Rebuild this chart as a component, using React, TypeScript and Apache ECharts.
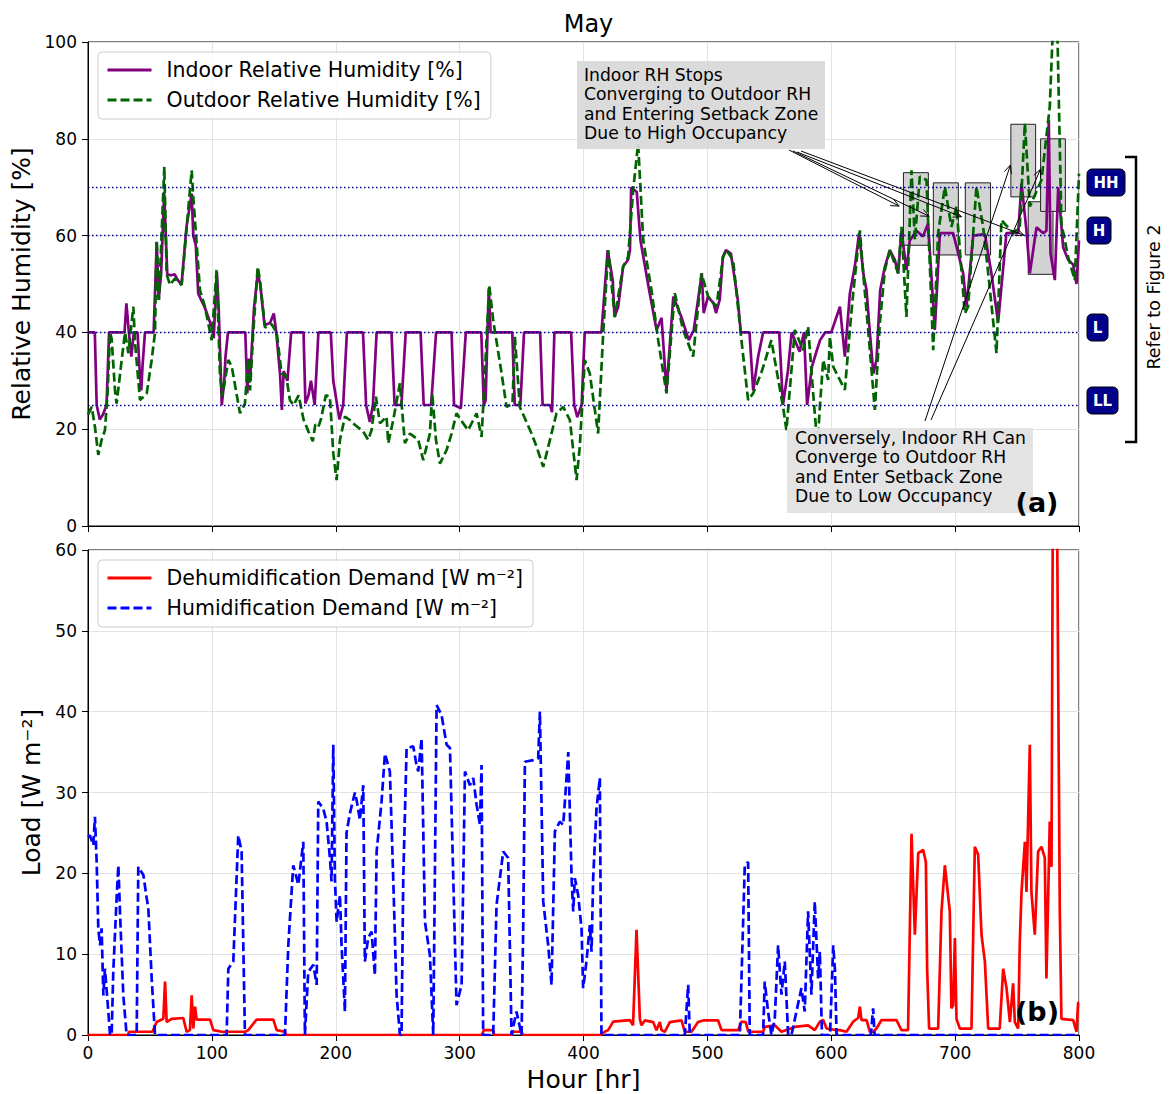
import React, { useEffect, useRef } from "react";
import * as echarts from "echarts";

// ---------- data (hour, value) ----------
const xTickStep = 100;

const indoorRH: [number, number][] = [
  [0, 40], [5.5, 40], [7, 25], [9.5, 22], [12, 23], [15, 25], [17, 40], [29.5, 40], [31, 46], [33, 40], [35, 35], [37, 40],
  [40, 40], [41.5, 33], [43, 28], [44, 33], [46, 40], [53, 40], [55.5, 58.7], [57, 46.7], [59, 52], [61.5, 69], [62.5, 62],
  [64, 52], [67, 51.8], [70, 52], [72, 51], [75.5, 49.8], [79.5, 61.8], [83.7, 68.7], [85, 60], [87, 58], [89, 48],
  [94.5, 45], [100, 41], [101.5, 38.8], [104, 52.5], [105.5, 45], [108, 25], [110, 30], [111, 35], [113, 40], [127, 40],
  [128.6, 27.4], [130, 34.6], [131, 31], [134, 45], [137, 52.2], [139, 50], [142.5, 41.5], [147, 42], [150, 43.9],
  [152, 40], [155, 31.5], [156.5, 24], [158, 32], [161, 30], [164, 40], [174, 40], [175.5, 25.3], [178, 27], [180, 30],
  [183, 25], [186, 40], [196, 40], [198, 30], [203, 22], [206, 25], [209, 40], [222, 40], [224.5, 25], [227.5, 21.5],
  [230, 25], [233, 40], [245, 40], [247.5, 25], [253, 25], [256.5, 40], [268.5, 40], [271, 25], [277, 25], [281, 40],
  [293.5, 40], [295.5, 25], [301, 24.3], [305, 40], [317.5, 40], [319.5, 25], [321, 26], [322.5, 40], [323.6, 49],
  [325, 40], [342.5, 40], [344.5, 25], [349, 25], [352, 40], [365, 40], [367, 25], [373, 25], [374.6, 23.5], [376.5, 40],
  [390, 40], [392.5, 25], [395, 22.5], [398.5, 25], [401, 40], [414.5, 40], [419.5, 57], [423.6, 50.8], [425, 43.2],
  [428, 45.3], [432, 53.6], [436, 55], [437.5, 57], [438.5, 70], [443, 69], [446, 59], [453, 48.7], [459, 40.5],
  [463, 43], [467, 28], [472.5, 47.4], [479, 43.2], [485, 38.4], [489, 40.5], [495.5, 52.2], [497, 44], [500.5, 47.4],
  [505, 46], [507, 44], [510, 46.8], [512.5, 55.6], [515, 57], [519, 56.3], [524.5, 46.8], [527, 40], [534, 40],
  [537, 28], [541, 35], [545, 40], [558, 40], [561, 25], [565, 32], [568, 40], [574.5, 36], [578, 40], [580.5, 25],
  [584.5, 33], [588, 36], [591, 38.4], [595, 40], [600, 40], [607, 45.3], [611, 35], [615, 48], [619, 53.6],
  [622.5, 60.5], [626, 52], [628.5, 48.7], [631, 40.5], [634, 31.5], [636.5, 34.3], [639.5, 48.7], [643.3, 53.6],
  [647.3, 57], [651.3, 55], [654, 52.2], [656.7, 61], [660.7, 52.9], [663.4, 59], [668.8, 61], [674, 59.8],
  [678.2, 62.5], [683.6, 40.5], [687.7, 60.5], [698.4, 60.5], [706.5, 52.2], [709.2, 45.3], [714.6, 60], [724, 60.3],
  [729.3, 52.2], [734.7, 42], [741.4, 60.5], [750.9, 60.5], [753.6, 70.8], [757.6, 61], [760.3, 52.2], [765.7, 61.7],
  [771.1, 60.5], [773.7, 61], [775.6, 83.9], [777, 56.3], [780.5, 50.8], [783.2, 70], [787.2, 57.6], [791.2, 55],
  [795.3, 54], [798, 50], [800, 59],
];

const outdoorRH: [number, number][] = [
  [0, 23], [3, 24.6], [5.6, 20.5], [8.3, 14.7], [11, 17.8], [13.7, 19.8], [15.9, 28], [17.8, 40], [19.1, 38.6],
  [21.8, 28], [23.1, 25.3], [27.2, 34.3], [29.9, 40], [32.6, 35.7], [36.6, 45.3], [38, 37.8], [42, 26], [47.4, 27.4],
  [51.4, 34.3], [54.1, 40], [55.4, 59], [57.3, 46.7], [61.6, 74.2], [63.5, 52], [66.2, 49.8], [70.3, 51.2],
  [75.6, 49.8], [79.7, 61.8], [83.7, 73.5], [85, 68], [90.4, 48.7], [94.4, 45.3], [99.8, 38.4], [103.8, 52.9],
  [106.5, 31.5], [108.4, 26.7], [113.3, 34.3], [116, 33], [122.7, 23.3], [126.7, 25.3], [129.4, 34.6], [130.8, 28],
  [133.4, 40], [137, 53.6], [138.8, 50.8], [142.9, 41], [148.2, 41.7], [152.3, 40], [156.3, 31.5], [160, 31],
  [163, 26], [166, 25], [170, 27], [174, 22], [178, 19.5], [181.5, 17.5], [183.5, 21], [186, 20.5], [188, 22],
  [192, 27], [195.3, 26.7], [198, 15], [200.7, 9.5], [203.4, 17.8], [207.4, 22.6], [211.4, 21.9], [214.1, 21.2],
  [222.2, 19.5], [226.2, 17.8], [228.9, 19.8], [232.4, 26.7], [235.7, 21.2], [241, 22.6], [242.4, 17.1], [246.4, 21.9],
  [251.8, 29.5], [255.8, 17.1], [259.9, 19.1], [266.6, 17.8], [270.6, 13.6], [276, 19.1], [277.9, 27.4], [280.9, 17.8],
  [284.1, 12.9], [289.5, 15.7], [293.5, 19.1], [297.5, 23.3], [302.9, 21.2], [306.9, 19.8], [313.7, 23.3],
  [317.7, 18.4], [319.6, 27.4], [323.9, 49.8], [327.1, 42.5], [333.9, 31.5], [337.9, 24.6], [342.7, 25.3],
  [344.6, 39.1], [348.6, 24.6], [358.1, 19.1], [362.1, 16.4], [367.5, 12.2], [378.2, 23.3], [383.6, 24.6], [389, 21.9],
  [394.4, 9.5], [397, 16.4], [401, 34.3], [405.1, 31.5], [411.8, 19.1], [415.9, 39.8], [419.9, 57], [425.3, 43.2],
  [432, 53.6], [436, 55.6], [440.1, 69.4], [444.1, 79], [448.2, 59.1], [454.9, 48.7], [460.3, 38.4], [467, 27.4],
  [473.7, 48.1], [480.4, 40.5], [488.5, 35], [495.2, 52.2], [500.6, 47.4], [507.3, 45.3], [512.7, 55.6], [515.4, 57],
  [520.8, 54.9], [527.5, 38.4], [532.9, 26], [536.9, 27.4], [544, 32], [551.7, 38.4], [554.4, 34.3], [561.1, 24.6],
  [563.8, 19.8], [570.6, 40.5], [577.3, 36.3], [581.3, 41.2], [585.4, 27.4], [588.9, 16.4], [590.8, 24.6],
  [593.5, 34.3], [597.5, 30.2], [598.9, 39.1], [601.6, 32.9], [611, 28.1], [615, 40.5], [617.7, 48.1], [623.1, 61.1],
  [625.8, 52.2], [629.8, 40.5], [635.2, 24], [639.2, 41.9], [643.3, 52.9], [647.3, 57], [654, 52.2], [656.7, 61.8],
  [660.7, 43.2], [664.8, 73.5], [667.5, 59.1], [671.5, 72.2], [676.9, 71.5], [682.3, 36.3], [686.3, 60.5],
  [691.7, 70.1], [697, 61.8], [701.1, 66], [707.8, 43.9], [710.5, 45.3], [717.2, 70.1], [722.6, 61.8], [726.7, 52.2],
  [733.4, 35.7], [737.4, 63.2], [746.8, 60.5], [752.2, 61.8], [756.3, 83.2], [760.3, 66], [769.7, 71.5],
  [776.4, 86.6], [779.1, 104], [782.4, 104], [785.8, 62.5], [791.2, 55.6], [796.6, 50.8], [800, 72.8],
];

const dehumDemand: [number, number][] = [
  [0, 0], [32.5, 0], [33, 0.4], [52, 0.4], [55.4, 1.6], [60.8, 2], [62.2, 6.6], [63.5, 1.6], [67.5, 2], [76.9, 2.1],
  [79.6, 0.4], [82.3, 0.6], [83.7, 4.9], [85, 0.8], [86.4, 3.5], [87.7, 1.9], [98.5, 1.9], [101.2, 0.6], [108, 0.4],
  [127, 0.4], [129.4, 0.6], [136.1, 1.9], [149.6, 1.9], [152.3, 0.6], [159, 0.4], [160, 0], [318, 0], [319.5, 0.6],
  [327, 0.6], [328, 0], [342, 0], [343, 0.4], [350, 0.4], [351, 0], [414, 0], [417.2, 0.4], [419.9, 0.6], [424, 1.65],
  [437.4, 1.85], [440, 1.2], [442.8, 13], [445.5, 2], [446.8, 1.2], [449.5, 1.8], [456.2, 1.6], [458.9, 0.6],
  [461.6, 1.6], [463, 0.6], [465.6, 0.4], [469.7, 1.6], [479.1, 1.8], [481.8, 0.4], [487.2, 0.4], [492.5, 1.6],
  [496.6, 1.8], [508.7, 1.8], [511.4, 0.6], [524.8, 0.6], [527.5, 1.65], [531, 1.6], [533, 0.4], [545, 0.4],
  [546.3, 1], [554.4, 1.2], [559.8, 0.4], [570.6, 1], [581.3, 1.2], [586.7, 0.6], [590.8, 1.65], [593.5, 1.85],
  [596.2, 0.8], [604.3, 0.6], [607, 0.6], [612.3, 0.4], [617.7, 1.65], [621.7, 2.1], [623.1, 3.5], [624.4, 1.85],
  [628.5, 1.85], [631.2, 0.4], [633.8, 0.4], [636.5, 0.8], [640.6, 1.85], [652.7, 1.85], [656.7, 0.6], [662, 0.6],
  [664.8, 24.9], [667.5, 12.4], [670.2, 22.5], [674.2, 22.9], [676.4, 21.4], [677.4, 8.2], [679, 0.8], [686.3, 0.8],
  [689, 15.3], [691.7, 21], [695.7, 15.3], [697, 3.3], [698.4, 3.7], [699.8, 12], [701.1, 2], [703.8, 0.8],
  [713.2, 0.8], [715.9, 23.3], [718.6, 22.3], [721.3, 12.4], [724, 9.1], [726.7, 0.8], [736, 0.8], [738.8, 8.2],
  [741.5, 5.8], [744.2, 1.6], [746.8, 6.4], [748.2, 1.6], [750.9, 0.8], [752.2, 11.5], [753.6, 17.7], [756.3, 23.9],
  [757.6, 17.7], [760.3, 35.9], [761.6, 17.7], [764.3, 12.4], [767, 22.7], [769.7, 23.3], [772.4, 21.9], [773.7, 7],
  [776.4, 26.4], [777.8, 20.8], [779.1, 75], [781.8, 75], [784.5, 15.3], [785.8, 2], [795.3, 1.85], [798, 0.4],
  [799.3, 4], [800, 4],
];

const humDemand: [number, number][] = [
  [0, 24.5], [1.5, 24.7], [4.3, 23.5], [5.6, 27], [7, 21.4], [8.3, 13.2], [9.7, 11.1], [11, 13.2], [12.4, 4.9],
  [13.7, 8.2], [16.4, 2.9], [17.8, 0], [19.1, 0], [20.4, 7.8], [23.1, 16.9], [24.5, 21], [25.8, 15.3], [28.5, 4.9],
  [31.2, 0], [39.3, 0], [40.6, 20.8], [44.7, 19.8], [47.4, 16.9], [48.7, 15.7], [51.4, 7], [54.1, 0], [111.9, 0],
  [113.3, 8.2], [117.3, 9.1], [121.3, 24.7], [124, 22.7], [126.7, 0], [159, 0], [161.7, 11.1], [165.7, 21],
  [169.8, 18.6], [173.8, 23.9], [175.1, 0], [177.8, 7.8], [181.9, 8.7], [184.6, 6.2], [185.9, 28.9], [189.9, 28],
  [192.6, 26.4], [195.3, 21.9], [196.6, 19], [198, 35.9], [199.3, 19.4], [200.7, 14], [203.4, 17.3], [204.7, 11.1],
  [207.4, 2.9], [208.7, 25], [211.4, 27.4], [215.5, 30], [216.8, 29.1], [219.5, 26.6], [222.2, 30.9], [223.5, 9.1],
  [226.2, 12], [228.9, 12.8], [231.6, 7.4], [233, 22.7], [237, 28.9], [239.7, 34.8], [243.7, 32.6], [246.4, 19.4],
  [249.1, 5], [251.8, 0], [253.1, 0], [254.5, 19.4], [257.2, 35.5], [262.6, 35.7], [265.2, 33.4], [266.6, 32.6],
  [269.3, 36.7], [272, 14], [276, 9.9], [278.7, 0], [280, 19.4], [281.4, 40.8], [285.4, 39.6], [289.5, 35.9],
  [292.2, 35.5], [297.5, 3.7], [301.6, 6.2], [304.3, 32.6], [308.3, 30.9], [311, 31.8], [313.7, 28.5], [316.4, 26],
  [317.7, 33.4], [319, 0], [327.1, 0], [329.8, 16.1], [332.5, 19.4], [335.2, 22.7], [339.2, 21.9], [341.9, 0],
  [345.9, 2.9], [350, 0], [351.3, 13], [352.7, 33.8], [359.4, 34], [363.4, 34.2], [364.8, 40], [367.5, 16.5],
  [371.5, 11.1], [374.2, 6.2], [376.9, 25.2], [380.9, 26.4], [383.6, 26], [385, 28.9], [387.7, 35], [390.4, 19.4],
  [391.7, 15.3], [393, 19.4], [395.7, 17.3], [398.4, 13.2], [399.7, 5.8], [402.4, 9.1], [405.1, 13.6], [406.5, 10.3],
  [407.8, 19.4], [410.5, 28], [413.2, 31.8], [414.5, 0], [481.8, 0], [484.5, 6.2], [485.8, 0], [526.2, 0], [530.2, 21],
  [532.9, 21.4], [534.2, 0], [545, 0], [546.3, 6.6], [549, 2.9], [551.7, 0], [554.4, 2], [557.1, 11.1], [559.8, 5],
  [562.5, 9.1], [565.2, 0], [567.9, 0], [575.9, 5.8], [578.6, 2.9], [581.3, 15.3], [584, 5], [586.7, 16.5],
  [589.4, 7], [590.8, 10.3], [592.5, 0], [599, 0], [601.6, 11.1], [603, 8], [604.3, 0], [632, 0], [633.8, 3.3],
  [635, 0], [800, 0],
];

const setpointLevels = [25, 40, 60, 70];

// gray annotation boxes: [hourStart, hourEnd, rhTop, rhBottom]
const setbackBoxes: [number, number, number, number][] = [
  [759, 779, 67, 52],
  [658.3, 678.4, 73, 58],
  [682.4, 702.6, 70.9, 56],
  [708.2, 728.6, 70.9, 56],
  [745, 765, 83, 68],
  [769, 789, 80, 65],
];

// arrow targets (hour, RH)
const highOccTargets: [number, number][] = [[654.8, 66.1], [679, 64], [705.1, 63.9], [755.4, 60.1]];
const lowOccTargets: [number, number][] = [[744.7, 74.6], [768.9, 73.7]];

const FONT = "DejaVu Sans";

export default function App() {
  const ref = useRef<HTMLDivElement>(null);
  useEffect(() => {
    const chart = echarts.init(ref.current!, null, { renderer: "svg" });
    const axisCommon = {
      axisLine: { show: true, lineStyle: { color: "#000", width: 1 } },
      axisTick: { show: true, inside: false, length: 6, lineStyle: { color: "#000" } },
      splitLine: { show: true, lineStyle: { color: "#e3e3e3", width: 1 } },
    };
    const tickLabel = { color: "#000", fontSize: 17, fontFamily: FONT };
    const nameStyle = { fontSize: 25, fontFamily: FONT, color: "#000" };
    const legendCommon = {
      orient: "vertical",
      left: 98,
      itemWidth: 44,
      itemHeight: 14,
      itemGap: 6,
      padding: [6, 10, 7, 8],
      borderColor: "#cccccc",
      borderWidth: 1,
      borderRadius: 4,
      backgroundColor: "rgba(255,255,255,0.85)",
      itemStyle: { opacity: 0, borderWidth: 0 },
      lineStyle: { width: 3 },
      textStyle: { fontSize: 20.5, fontFamily: FONT, color: "#000", lineHeight: 24, padding: [0, 0, 0, 10] },
    };
    const option: any = {
      animation: false,
      backgroundColor: "#fff",
      title: {
        text: "May",
        left: 583.5,
        top: 7,
        textAlign: "center",
        textStyle: { fontSize: 24, fontWeight: "normal", fontFamily: FONT, color: "#000" },
      },
      grid: [
        { left: 88, right: 91, top: 42, height: 484, show: true, borderColor: "#000", borderWidth: 1, backgroundColor: "transparent" },
        { left: 88, right: 91, top: 550, height: 485, show: true, borderColor: "#000", borderWidth: 1, backgroundColor: "transparent" },
      ],
      xAxis: [
        { ...axisCommon, type: "value", gridIndex: 0, min: 0, max: 800, interval: xTickStep, axisLabel: { show: false } },
        {
          ...axisCommon, type: "value", gridIndex: 1, min: 0, max: 800, interval: xTickStep,
          axisLabel: { ...tickLabel, margin: 9 },
          name: "Hour [hr]", nameLocation: "middle", nameGap: 32, nameTextStyle: nameStyle,
        },
      ],
      yAxis: [
        {
          ...axisCommon, type: "value", gridIndex: 0, min: 0, max: 100, interval: 20,
          axisLabel: { ...tickLabel, margin: 11 },
          name: "Relative Humidity [%]", nameLocation: "middle", nameGap: 52, nameTextStyle: nameStyle,
        },
        {
          ...axisCommon, type: "value", gridIndex: 1, min: 0, max: 60, interval: 10,
          axisLabel: { ...tickLabel, margin: 11 },
          name: "Load [W m⁻²]", nameLocation: "middle", nameGap: 41, nameTextStyle: nameStyle,
        },
      ],
      legend: [
        { ...legendCommon, top: 52, data: ["Indoor Relative Humidity [%]", "Outdoor Relative Humidity [%]"] },
        { ...legendCommon, top: 560, data: ["Dehumidification Demand [W m⁻²]", "Humidification Demand [W m⁻²]"] },
      ],
      series: [
        {
          type: "line", name: "boxes", xAxisIndex: 0, yAxisIndex: 0, data: [], z: 1, silent: true,
          markArea: {
            silent: true,
            itemStyle: { color: "#d3d3d3", borderColor: "#222", borderWidth: 1 },
            data: setbackBoxes.map(([x0, x1, yTop, yBot]) => [{ xAxis: x0, yAxis: yTop }, { xAxis: x1, yAxis: yBot }]),
          },
          markLine: {
            silent: true,
            symbol: "none",
            label: { show: false },
            lineStyle: { color: "#00008b", type: [1.5, 2.5], width: 1.3 },
            data: setpointLevels.map((v) => ({ yAxis: v })),
          },
        },
        {
          type: "line", name: "Indoor Relative Humidity [%]", xAxisIndex: 0, yAxisIndex: 0, data: indoorRH,
          symbol: "none", z: 3, color: "#800080", lineStyle: { color: "#800080", width: 2.7 },
        },
        {
          type: "line", name: "Outdoor Relative Humidity [%]", xAxisIndex: 0, yAxisIndex: 0, data: outdoorRH,
          symbol: "none", z: 4, color: "#006400", lineStyle: { color: "#006400", width: 2.7, type: [9, 4] },
        },
        {
          type: "line", name: "Dehumidification Demand [W m⁻²]", xAxisIndex: 1, yAxisIndex: 1, data: dehumDemand,
          symbol: "none", z: 3, color: "#ff0000", lineStyle: { color: "#ff0000", width: 2.7 },
        },
        {
          type: "line", name: "Humidification Demand [W m⁻²]", xAxisIndex: 1, yAxisIndex: 1, data: humDemand,
          symbol: "none", z: 4, color: "#0000ff", lineStyle: { color: "#0000ff", width: 2.7, type: [9, 4] },
        },
      ],
    };
    chart.setOption(option);

    const toPx = (p: [number, number]) => chart.convertToPixel({ gridIndex: 0 } as any, p) as number[];
    const arrow = (sx: number, sy: number, ex: number, ey: number) => {
      const ang = Math.atan2(ey - sy, ex - sx);
      const L = 9, W = 0.42;
      return [
        { type: "line", z: 100, shape: { x1: sx, y1: sy, x2: ex, y2: ey }, style: { stroke: "#000", lineWidth: 1 } },
        {
          type: "polyline", z: 100,
          shape: {
            points: [
              [ex - L * Math.cos(ang - W), ey - L * Math.sin(ang - W)],
              [ex, ey],
              [ex - L * Math.cos(ang + W), ey - L * Math.sin(ang + W)],
            ],
          },
          style: { stroke: "#000", lineWidth: 1, fill: "none" },
        },
      ];
    };
    const highStarts = [[789, 150], [793, 151], [797, 152], [801, 151]];
    const lowStarts = [[925, 421], [931, 420]];
    const arrows: any[] = [];
    highOccTargets.forEach((t, i) => {
      const p = toPx(t);
      arrows.push(...arrow(highStarts[i][0], highStarts[i][1], p[0], p[1]));
    });
    lowOccTargets.forEach((t, i) => {
      const p = toPx(t);
      arrows.push(...arrow(lowStarts[i][0], lowStarts[i][1], p[0], p[1]));
    });

    const badge = (label: string, x: number, y: number, w: number, h: number) => ({
      type: "group", z: 100,
      children: [
        { type: "rect", shape: { x, y, width: w, height: h, r: 5 }, style: { fill: "#00008b", stroke: "#000", lineWidth: 1 } },
        {
          type: "text", x: x + w / 2, y: y + h / 2 + 0.5,
          style: { text: label, fill: "#fff", fontSize: 15, fontWeight: "bold", fontFamily: FONT, align: "center", verticalAlign: "middle" },
        },
      ],
    });

    const annFont = { fontSize: 17.2, lineHeight: 19.4, fontFamily: FONT, fill: "#000", align: "left", verticalAlign: "top" };
    const graphic: any[] = [
      {
        type: "rect", z: 90, shape: { x: 577, y: 61, width: 248, height: 88 },
        style: { fill: "rgba(217,217,217,0.95)" },
      },
      {
        type: "text", z: 91, x: 584, y: 65,
        style: { ...annFont, text: "Indoor RH Stops\nConverging to Outdoor RH\nand Entering Setback Zone\nDue to High Occupancy" },
      },
      {
        type: "rect", z: 90, shape: { x: 787, y: 428, width: 246, height: 85 },
        style: { fill: "rgba(225,225,225,0.95)" },
      },
      {
        type: "text", z: 91, x: 795, y: 428,
        style: { ...annFont, text: "Conversely, Indoor RH Can\nConverge to Outdoor RH\nand Enter Setback Zone\nDue to Low Occupancy" },
      },
      {
        type: "text", z: 95, x: 1037, y: 502,
        style: { text: "(a)", fontSize: 27, fontWeight: "bold", fontFamily: FONT, fill: "#000", align: "center", verticalAlign: "middle" },
      },
      {
        type: "text", z: 95, x: 1037, y: 1011,
        style: { text: "(b)", fontSize: 27, fontWeight: "bold", fontFamily: FONT, fill: "#000", align: "center", verticalAlign: "middle" },
      },
      badge("HH", 1087, 169, 38, 27),
      badge("H", 1087, 217, 24, 27),
      badge("L", 1087, 314, 21, 27),
      badge("LL", 1087, 387, 31, 27),
      {
        type: "polyline", z: 100,
        shape: { points: [[1125, 157], [1136, 157], [1136, 442], [1125, 442]] },
        style: { stroke: "#000", lineWidth: 2.5, fill: "none" },
      },
      {
        type: "text", z: 100, x: 1154, y: 297, rotation: Math.PI / 2,
        style: { text: "Refer to Figure 2", fontSize: 17.5, fontFamily: FONT, fill: "#000", align: "center", verticalAlign: "middle" },
      },
      ...arrows,
    ];
    chart.setOption({ graphic });
    return () => chart.dispose();
  }, []);
  return <div ref={ref} style={{ position: "absolute", left: 0, top: 0, width: 1170, height: 1094 }} />;
}
